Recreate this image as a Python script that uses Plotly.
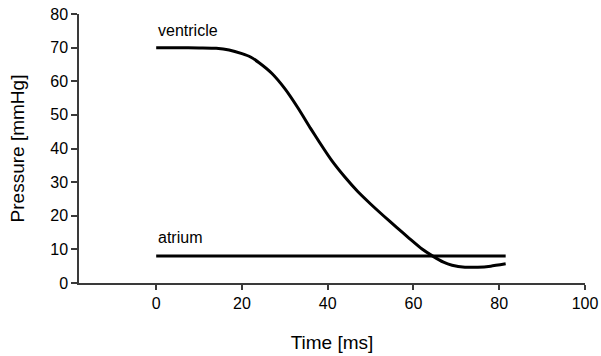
import plotly.graph_objects as go

# Data
vent_t = [0, 5, 10, 14, 17, 20, 22, 24, 27, 30, 33, 36, 38, 41, 44, 47, 50, 53, 56, 59, 62, 64.5, 67, 69, 72, 75, 78, 81.5]
vent_p = [70, 70, 69.9, 69.8, 69.3, 68.2, 67.2, 65.5, 62.3, 57.8, 52.2, 46, 42, 36.3, 31.5, 27.2, 23.5, 20, 16.6, 13.3, 10.1, 8, 6.2, 5.3, 4.7, 4.7, 5.0, 5.7]
atr_t = [0, 81.5]
atr_p = [8, 8]

x_ticks = [0, 20, 40, 60, 80, 100]
y_ticks = [0, 10, 20, 30, 40, 50, 60, 70, 80]

FONT = "Liberation Sans, Arial, sans-serif"

fig = go.Figure()
fig.add_trace(go.Scatter(x=vent_t, y=vent_p, mode="lines", name="ventricle",
                         line=dict(color="black", width=3, shape="spline", smoothing=0.6)))
fig.add_trace(go.Scatter(x=atr_t, y=atr_p, mode="lines", name="atrium",
                         line=dict(color="black", width=3)))

fig.add_annotation(x=0, y=75.2, text="ventricle", showarrow=False, xanchor="left", yanchor="middle",
                   font=dict(family=FONT, size=16, color="black"))
fig.add_annotation(x=0, y=13.4, text="atrium", showarrow=False, xanchor="left", yanchor="middle",
                   font=dict(family=FONT, size=16, color="black"))

fig.update_layout(
    width=601, height=356,
    margin=dict(l=79, r=16, t=14, b=73),
    paper_bgcolor="white", plot_bgcolor="white",
    showlegend=False,
    font=dict(family=FONT, size=16, color="black"),
    xaxis=dict(range=[-18, 100], tickvals=x_ticks, showgrid=False, zeroline=False,
               showline=True, linecolor="#3a3a3a", linewidth=1.5, automargin=False,
               ticks="outside", ticklen=5, tickcolor="#3a3a3a", tickwidth=1.5,
               ticklabeloverflow="allow",
               title=dict(text="Time [ms]", standoff=25)),
    yaxis=dict(range=[0, 80], tickvals=y_ticks, showgrid=False, zeroline=False,
               showline=True, linecolor="#3a3a3a", linewidth=1.5, automargin=False,
               ticks="outside", ticklen=6, tickcolor="#3a3a3a", tickwidth=1.5,
               ticklabeloverflow="allow",
               title=dict(text="Pressure [mmHg]", standoff=21)),
)

fig.write_html("out.html", config={"displayModeBar": False},
               post_script="document.body.style.margin='0';document.body.style.overflow='hidden';")
